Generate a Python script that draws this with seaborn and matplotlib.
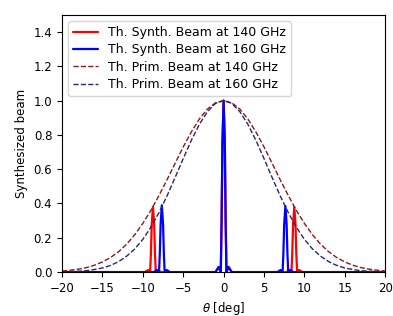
import numpy as np
import pandas as pd
import seaborn as sns
import matplotlib
matplotlib.use("Agg")
import matplotlib.pyplot as plt

# Primary beams, theta in degrees
theta_prim = [-20, -19, -18, -17, -16, -15, -14, -13, -12, -11, -10, -9, -8, -7, -6, -5, -4, -3, -2, -1,
              0, 1, 2, 3, 4, 5, 6, 7, 8, 9, 10, 11, 12, 13, 14, 15, 16, 17, 18, 19, 20]
prim_140_half = [1.000, 0.987, 0.951, 0.893, 0.817, 0.730, 0.635, 0.539, 0.447, 0.360, 0.284,
                 0.218, 0.163, 0.119, 0.085, 0.059, 0.040, 0.026, 0.017, 0.011, 0.006]
prim_160_half = [1.000, 0.984, 0.936, 0.862, 0.768, 0.662, 0.552, 0.445, 0.347, 0.262, 0.191,
                 0.135, 0.093, 0.061, 0.039, 0.024, 0.015, 0.008, 0.005, 0.003, 0.001]
prim_140 = prim_140_half[::-1] + prim_140_half[1:]
prim_160 = prim_160_half[::-1] + prim_160_half[1:]

# Synthesized beams
theta_syn_140 = [-20, -9.75, -9.35, -9.1, -9.0, -8.9, -8.75, -8.6, -8.5, -8.4, -8.15, -7.75,
                 -1.0, -0.6, -0.35, -0.25, -0.15, 0.0, 0.15, 0.25, 0.35, 0.6, 1.0,
                 7.75, 8.15, 8.4, 8.5, 8.6, 8.75, 8.9, 9.0, 9.1, 9.35, 9.75, 20]
syn_140 = [0, 0, 0.012, 0, 0.11, 0.28, 0.38, 0.28, 0.11, 0, 0.012, 0,
           0, 0.03, 0, 0.3, 0.75, 1.0, 0.75, 0.3, 0, 0.03, 0,
           0, 0.012, 0, 0.11, 0.28, 0.38, 0.28, 0.11, 0, 0.012, 0, 0]
theta_syn_160 = [-20, -8.65, -8.25, -8.0, -7.9, -7.8, -7.65, -7.5, -7.4, -7.3, -7.05, -6.65,
                 -1.0, -0.6, -0.35, -0.25, -0.15, 0.0, 0.15, 0.25, 0.35, 0.6, 1.0,
                 6.65, 7.05, 7.3, 7.4, 7.5, 7.65, 7.8, 7.9, 8.0, 8.25, 8.65, 20]
syn_160 = [0, 0, 0.012, 0, 0.11, 0.28, 0.39, 0.28, 0.11, 0, 0.012, 0,
           0, 0.03, 0, 0.3, 0.75, 1.0, 0.75, 0.3, 0, 0.03, 0,
           0, 0.012, 0, 0.11, 0.28, 0.385, 0.28, 0.11, 0, 0.012, 0, 0]

sns.set_style("ticks", rc={'text.color': 'black', 'axes.labelcolor': 'black',
                           'xtick.color': 'black', 'ytick.color': 'black',
                           'axes.edgecolor': 'black'})
plt.rcParams['font.family'] = ['DejaVu Sans']

fig = plt.figure(figsize=(3.93, 3.16), dpi=100)
ax = fig.add_axes([0.158, 0.139, 0.822, 0.814])

sns.lineplot(x=theta_syn_140, y=syn_140, ax=ax, color='red', lw=1.6,
             label='Th. Synth. Beam at 140 GHz', sort=False)
sns.lineplot(x=theta_syn_160, y=syn_160, ax=ax, color='blue', lw=1.6,
             label='Th. Synth. Beam at 160 GHz', sort=False)
sns.lineplot(x=theta_prim, y=prim_140, ax=ax, color='#8b1a1a', lw=1.0, ls='--',
             label='Th. Prim. Beam at 140 GHz', sort=False)
sns.lineplot(x=theta_prim, y=prim_160, ax=ax, color='#26266e', lw=1.0, ls='--',
             label='Th. Prim. Beam at 160 GHz', sort=False)

ax.set_xlim(-20, 20)
ax.set_ylim(0, 1.5)
ax.set_xticks([-20, -15, -10, -5, 0, 5, 10, 15, 20])
ax.set_yticks([0.0, 0.2, 0.4, 0.6, 0.8, 1.0, 1.2, 1.4])
ax.tick_params(labelsize=8.5, length=3.5)
ax.set_xlabel(r'$\theta$ [deg]', fontsize=8.5)
ax.set_ylabel('Synthesized beam', fontsize=8.5)
for s in ax.spines.values():
    s.set_linewidth(0.8)
ax.legend(loc='upper left', fontsize=9, frameon=True, labelspacing=0.35)

fig.savefig('out.png', dpi=100)
